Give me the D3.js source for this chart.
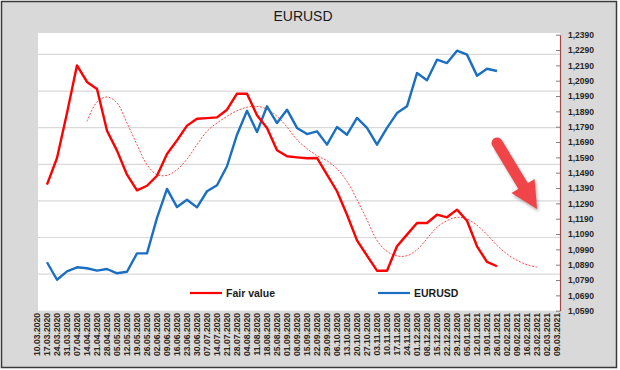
<!DOCTYPE html>
<meta charset="utf-8">
<style>
  body{margin:0;background:#fff;}
  svg{font-family:"Liberation Sans",Arial,sans-serif;}
</style>
<svg width="620" height="370"></svg>
<script src="https://d3js.org/d3.v7.min.js"></script>
<script>
// weekly category labels
var dates = ["10.03.2020","17.03.2020","24.03.2020","31.03.2020","07.04.2020","14.04.2020","21.04.2020","28.04.2020",
  "05.05.2020","12.05.2020","19.05.2020","26.05.2020","02.06.2020","09.06.2020","16.06.2020","23.06.2020","30.06.2020",
  "07.07.2020","14.07.2020","21.07.2020","28.07.2020","04.08.2020","11.08.2020","18.08.2020","25.08.2020","01.09.2020",
  "08.09.2020","15.09.2020","22.09.2020","29.09.2020","06.10.2020","13.10.2020","20.10.2020","27.10.2020","03.11.2020",
  "10.11.2020","17.11.2020","24.11.2020","01.12.2020","08.12.2020","15.12.2020","22.12.2020","29.12.2020","05.01.2021",
  "12.01.2021","19.01.2021","26.01.2021","02.02.2021","09.02.2021","16.02.2021","23.02.2021","02.03.2021","09.03.2021"];

// EURUSD and Fair value start 17.03.2020
var eurusdStart = "17.03.2020";
var eurusd = [1.0906,1.0792,1.0847,1.0873,1.0867,1.0851,1.0862,1.0834,1.0844,1.0964,1.0964,1.1195,1.1384,1.1266,1.1314,1.1264,
  1.1369,1.1408,1.1532,1.1738,1.1894,1.1755,1.1923,1.1814,1.1901,1.1782,1.1742,1.1760,1.1673,1.1788,1.1738,1.1847,1.1782,
  1.1673,1.1782,1.1879,1.1923,1.2140,1.2093,1.2227,1.2205,1.2286,1.2260,1.2123,1.2168,1.2153];

var fairStart = "17.03.2020";
var fairValue = [1.1412,1.1586,1.1879,1.2190,1.2082,1.2036,1.1764,1.1634,1.1477,1.1375,1.1405,1.1470,1.1612,1.1701,1.1797,1.1842,
  1.1846,1.1851,1.1901,1.2005,1.2005,1.1864,1.1782,1.1636,1.1597,1.1590,1.1584,1.1586,1.1477,1.1369,1.1216,1.1049,1.0949,
  1.0851,1.0851,1.1010,1.1086,1.1162,1.1162,1.1216,1.1199,1.1249,1.1177,1.1010,1.0908,1.0880];

// smoothed fair value, shifted forward
var smoothStart = "14.04.2020";
var fairSmooth = [1.1825,1.1951,1.1984,1.1945,1.1814,1.1673,1.1542,1.1477,1.1473,1.1510,1.1579,1.1673,1.1760,1.1814,1.1858,
  1.1894,1.1917,1.1923,1.1905,1.1858,1.1788,1.1705,1.1647,1.1601,1.1568,1.1516,1.1434,1.1314,1.1183,1.1048,1.0977,1.0947,
  1.0949,1.0988,1.1060,1.1134,1.1177,1.1199,1.1188,1.1147,1.1086,1.1016,1.0960,1.0919,1.0890,1.0875];

var yTicks = [1.0590,1.0690,1.0790,1.0890,1.0990,1.1090,1.1190,1.1290,1.1390,1.1490,1.1590,1.1690,1.1790,1.1890,1.1990,
  1.2090,1.2190,1.2290,1.2390];

// hidden primary axis only drives the gridlines
var gridTicks = [1,2,3,4,5,6,7];
var gridMax = 7.54;

var arrowFrom = ["26.01.2021", 1.1684], arrowTo = ["23.02.2021", 1.1253];

var svg = d3.select("svg");
var plotLeft = 38, plotRight = 560, plotTop = 34.7, plotBottom = 310.7;

svg.append("rect").attr("x",1.5).attr("y",1.5).attr("width",615).attr("height",366)
  .attr("fill","#d9d9d9").attr("stroke","#3a3a3a").attr("stroke-width",1.5);
svg.append("rect").attr("x",plotLeft).attr("y",33).attr("width",plotRight-plotLeft).attr("height",plotBottom-33).attr("fill","#fff");

var x = d3.scalePoint().domain(dates).range([37, 557]);
var y = d3.scaleLinear().domain([1.059, 1.239]).range([plotBottom, plotTop]);
var yGrid = d3.scaleLinear().domain([0, gridMax]).range([plotBottom, plotTop]);

svg.append("g").selectAll("line").data(gridTicks).enter().append("line")
  .attr("x1",plotLeft).attr("x2",plotRight)
  .attr("y1",function(d){return yGrid(d);}).attr("y2",function(d){return yGrid(d);})
  .attr("stroke","#d9d9d9").attr("stroke-width",1.2);

// right axis
var fmt = d3.format(".4f");
var axis = svg.append("g").attr("transform","translate("+plotRight+",0)")
  .call(d3.axisRight(y).tickValues(yTicks).tickSize(0).tickPadding(8)
    .tickFormat(function(d){ return fmt(d).replace(".",","); }));
axis.select(".domain").attr("stroke","#9c4646").attr("stroke-width",1.2);
axis.selectAll(".tick").append("line").attr("x1",-4).attr("x2",0).attr("stroke","#7f7f7f");
axis.selectAll("text").attr("font-size",8.5).attr("font-weight","bold").attr("fill","#262626")
  .attr("font-family","Liberation Sans, Arial, sans-serif");

// x labels
svg.append("g").selectAll("text").data(dates).enter().append("text")
  .attr("transform",function(d){ return "translate("+x(d)+",313) rotate(-90)"; })
  .attr("text-anchor","end").attr("dy","0.35em")
  .attr("font-size",8.6).attr("font-weight","bold").attr("fill","#262626")
  .text(function(d){ return d; });

function lineFrom(start, curve){
  var i0 = dates.indexOf(start);
  return d3.line().curve(curve)
    .x(function(d,i){ return x(dates[i0+i]); })
    .y(function(d){ return y(d); });
}

svg.append("path").datum(fairSmooth).attr("fill","none").attr("stroke","#ff4a4a")
  .attr("stroke-width",1).attr("stroke-dasharray","2,1.5")
  .attr("d", lineFrom(smoothStart, d3.curveCatmullRom));
svg.append("path").datum(eurusd).attr("fill","none").attr("stroke","#1a6fc2")
  .attr("stroke-width",2.4).attr("stroke-linejoin","round")
  .attr("d", lineFrom(eurusdStart, d3.curveLinear));
svg.append("path").datum(fairValue).attr("fill","none").attr("stroke","#ff0000")
  .attr("stroke-width",2.4).attr("stroke-linejoin","round")
  .attr("d", lineFrom(fairStart, d3.curveLinear));

// title
svg.append("text").attr("x",303).attr("y",21).attr("text-anchor","middle")
  .attr("font-size",14).attr("fill","#1a1a1a").text("EURUSD");

// legend
var legend = [{name:"Fair value", color:"#ff0000", x:190},{name:"EURUSD", color:"#1a6fc2", x:378}];
var lg = svg.append("g").selectAll("g").data(legend).enter().append("g")
  .attr("transform",function(d){ return "translate("+d.x+",293)"; });
lg.append("line").attr("x1",0).attr("x2",32).attr("stroke",function(d){return d.color;}).attr("stroke-width",2.2);
lg.append("text").attr("x",36).attr("dy","0.35em").attr("font-size",10.5).attr("font-weight","bold")
  .attr("fill","#1a1a1a").text(function(d){ return d.name; });

// arrow
var sx = x(arrowFrom[0]), sy = y(arrowFrom[1]), tx = x(arrowTo[0]), ty = y(arrowTo[1]);
var len = Math.hypot(tx-sx, ty-sy), ux = (tx-sx)/len, uy = (ty-sy)/len, nx = -uy, ny = ux;
var headLen = 27, headW = 13.5, shaftW = 5.5;
var hx = tx-ux*headLen, hy = ty-uy*headLen;
function arrowShape(g, color){
  g.append("line").attr("x1",sx).attr("y1",sy).attr("x2",hx+ux*2).attr("y2",hy+uy*2)
    .attr("stroke",color).attr("stroke-width",shaftW*2).attr("stroke-linecap","round");
  g.append("path").attr("fill",color)
    .attr("d","M"+[hx+nx*headW,hy+ny*headW]+"L"+[tx,ty]+"L"+[hx-nx*headW,hy-ny*headW]+"Z");
}
var defs = svg.append("defs");
defs.append("filter").attr("id","blur").append("feGaussianBlur").attr("stdDeviation",1.5);
var shadow = svg.append("g").attr("transform","translate(1.5,2.5)").attr("filter","url(#blur)").attr("opacity",0.45);
arrowShape(shadow, "#555");
arrowShape(svg.append("g"), "#f04448");
</script>
